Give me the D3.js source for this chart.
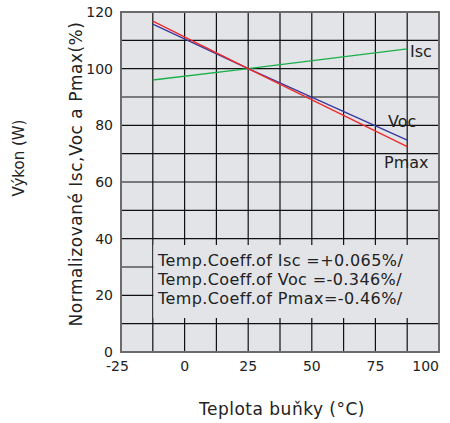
<!DOCTYPE html>
<html>
<head>
<meta charset="utf-8">
<script src="https://cdn.jsdelivr.net/npm/d3@7"></script>
<style>
  body { margin: 0; background: #fff; }
  text { font-family: "DejaVu Sans", Verdana, sans-serif; fill: #222; }
</style>
</head>
<body>
<svg id="chart" width="450" height="423"></svg>
<script>
// temperatures (°C) where the lines are drawn
var temps = [-12.5, 25, 87.5];
// normalized values (%)
var isc  = [96, 100, 107];
var voc  = [115.7, 100, 74.8];
var pmax = [116.8, 100, 72.5];

var xTicks = [-25, 0, 25, 50, 75, 100];
var yTicks = [0, 20, 40, 60, 80, 100, 120];
var coeffText = ["Temp.Coeff.of Isc =+0.065%/", "Temp.Coeff.of Voc =-0.346%/", "Temp.Coeff.of Pmax=-0.46%/"];

var svg = d3.select("#chart");
var pL = 121, pR = 439, pT = 12, pB = 352;

var x = d3.scaleLinear().domain([-25, 100]).range([pL, pR]);
var y = d3.scaleLinear().domain([0, 120]).range([pB, pT]);

// plot background
svg.append("rect")
  .attr("x", pL).attr("y", pT)
  .attr("width", pR - pL).attr("height", pB - pT)
  .attr("fill", "#e3e4e8");

// grid
var g = svg.append("g").attr("stroke", "#111").attr("stroke-width", 1.2);
d3.range(-12.5, 100, 12.5).forEach(function(v){
  g.append("line").attr("x1", x(v)).attr("x2", x(v)).attr("y1", pT).attr("y2", pB);
});
d3.range(10, 120, 10).forEach(function(v){
  g.append("line").attr("x1", pL).attr("x2", pR).attr("y1", y(v)).attr("y2", y(v));
});

// box behind the coefficient text hides the grid
svg.append("rect")
  .attr("x", x(-12.5) + 0.6).attr("y", 245)
  .attr("width", pR - x(-12.5) - 0.6).attr("height", 73)
  .attr("fill", "#e3e4e8");

svg.append("rect")
  .attr("x", pL).attr("y", pT)
  .attr("width", pR - pL).attr("height", pB - pT)
  .attr("fill", "none").attr("stroke", "#6b6b6b").attr("stroke-width", 2);

var line = d3.line()
  .x(function(d, i){ return x(temps[i]); })
  .y(function(d){ return y(d); });

svg.append("path").datum(isc).attr("d", line).attr("fill", "none").attr("stroke", "#19b04a").attr("stroke-width", 1.4);
svg.append("path").datum(voc).attr("d", line).attr("fill", "none").attr("stroke", "#3a3a9e").attr("stroke-width", 1.4);
svg.append("path").datum(pmax).attr("d", line).attr("fill", "none").attr("stroke", "#f02a2a").attr("stroke-width", 1.4);

svg.append("text").attr("x", 410).attr("y", 57).attr("font-size", 16).text("Isc");
svg.append("text").attr("x", 388).attr("y", 127).attr("font-size", 16).text("Voc");
svg.append("text").attr("x", 384).attr("y", 168).attr("font-size", 16).text("Pmax");

coeffText.forEach(function(t, i){
  svg.append("text").attr("x", 158).attr("y", 266 + i * 19)
    .attr("font-size", 16).attr("letter-spacing", 0.4).text(t);
});

// tick labels
svg.selectAll(".ytick").data(yTicks).enter().append("text")
  .attr("class", "ytick")
  .attr("x", 113).attr("y", function(d){ return y(d) + 5; })
  .attr("text-anchor", "end").attr("font-size", 14)
  .text(function(d){ return d; });

svg.selectAll(".xtick").data(xTicks).enter().append("text")
  .attr("class", "xtick")
  .attr("x", function(d, i){ return i == 0 ? x(d) - 3.5 : x(d); })
  .attr("y", 371)
  .attr("text-anchor", function(d, i){ return i == xTicks.length - 1 ? "end" : "middle"; })
  .attr("font-size", 14)
  .text(function(d){ return d; });

// axis titles
svg.append("text").attr("transform", "translate(24,158) rotate(-90)")
  .attr("text-anchor", "middle").attr("font-size", 15).text("Výkon (W)");
svg.append("text").attr("transform", "translate(82,174) rotate(-90)")
  .attr("text-anchor", "middle").attr("font-size", 17).attr("letter-spacing", 0.5)
  .text("Normalizované Isc,Voc a Pmax(%)");
svg.append("text").attr("x", 282).attr("y", 415)
  .attr("text-anchor", "middle").attr("font-size", 17).attr("letter-spacing", 0.5)
  .text("Teplota buňky (°C)");
</script>
</body>
</html>
